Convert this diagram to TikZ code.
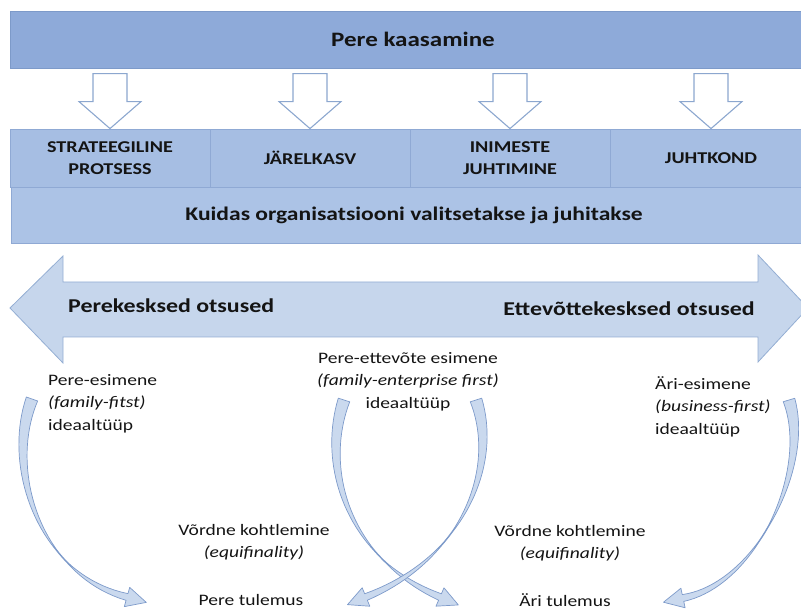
\documentclass[tikz,border=0pt]{standalone}
\usepackage{fontspec}
\setmainfont{Carlito}[FakeStretch=1.22]
\usetikzlibrary{calc}

\definecolor{barblue}{HTML}{8EAAD9}
\definecolor{barline}{HTML}{7D9AC9}
\definecolor{cellblue}{HTML}{A6BEE3}
\definecolor{rowblue}{HTML}{ACC3E6}
\definecolor{cellline}{HTML}{8FA9D4}
\definecolor{hollowline}{HTML}{8CA7CF}
\definecolor{bigfill}{HTML}{C6D6EC}
\definecolor{bigline}{HTML}{94AED3}
\definecolor{ribfill}{HTML}{CAD9EE}
\definecolor{ribline}{HTML}{7D9ACA}
\definecolor{ink}{HTML}{141414}

% Tapered, twisted ribbon arrow along a Bezier curve
% #1 name, #2 start, #3 #4 controls, #5 end, #6 pinch parameter, #7 top width, #8 width at head
\newcommand\ribbon[8]{%
  \path #2 .. controls #3 and #4 .. #5
    \foreach \k [evaluate=\k as \p using \k/40] in {0,...,40}{coordinate[pos=\p] (#1q\k)};
  \foreach \k in {0,...,39}{%
    \pgfmathtruncatemacro\kn{\k+1}%
    \pgfmathsetmacro\rbt{\k/40}%
    \pgfmathsetmacro\hw{max(0.35,ifthenelse(\rbt<#6,#7*(#6-\rbt)/#6/2,#8*(\rbt-#6)/(1-#6)/2))}%
    \coordinate (#1L\k) at ($(#1q\k)!\hw pt!90:(#1q\kn)$);%
    \coordinate (#1R\k) at ($(#1q\k)!\hw pt!-90:(#1q\kn)$);%
  }
  \pgfmathsetmacro\hw{#8/2}
  \coordinate (#1L40) at ($(#1q40)!\hw pt!-90:(#1q39)$);
  \coordinate (#1R40) at ($(#1q40)!\hw pt!90:(#1q39)$);
  \coordinate (#1hl) at ($(#1q40)!10pt!-90:(#1q39)$);
  \coordinate (#1hr) at ($(#1q40)!10pt!90:(#1q39)$);
  \coordinate (#1tip) at ($(#1q40)!20pt!180:(#1q39)$);
  \draw[ribbonband] (#1L0) \foreach \k in {1,...,40}{ -- (#1L\k)}
    -- (#1hl) -- (#1tip) -- (#1hr)
    \foreach \k in {40,39,...,0}{ -- (#1R\k)} -- cycle;
}

% Hollow block arrow pointing down onto a node
\newcommand\downblock[1]{%
  \draw[hollow] ($(#1.north)+(-17,-55)$) -- ($(#1.north)+(17,-55)$)
    -- ($(#1.north)+(17,-27)$) -- ($(#1.north)+(31,-27)$) -- (#1.north)
    -- ($(#1.north)+(-31,-27)$) -- ($(#1.north)+(-17,-27)$) -- cycle;
}

\begin{document}
\begin{tikzpicture}[x=1pt,y=-1pt,
  every node/.style={text=ink},
  topbar/.style={fill=barblue, draw=barline, line width=0.8pt, minimum width=806pt,
    minimum height=57pt, inner sep=0pt, font=\bfseries\fontsize{20.5}{24}\selectfont},
  cellbox/.style={fill=cellblue, draw=cellline, line width=0.8pt, minimum height=58pt,
    inner sep=0pt, align=center, font=\bfseries\fontsize{16.5}{22}\selectfont},
  rowbox/.style={fill=rowblue, draw=cellline, line width=0.8pt, minimum width=806pt,
    minimum height=56pt, inner sep=0pt, font=\bfseries\fontsize{19.3}{24}\selectfont},
  hollow/.style={fill=white, draw=hollowline, line width=1.1pt, line join=miter},
  bigarrow/.style={fill=bigfill, draw=bigline, line width=0.8pt},
  ribbonband/.style={fill=ribfill, draw=ribline, line width=0.7pt, line join=round},
  sidetext/.style={font=\bfseries\fontsize{19.6}{22}\selectfont, inner sep=0pt},
  lbl/.style={font=\fontsize{16}{22.5}\selectfont, inner sep=0pt},
]
\useasboundingbox (0,0) rectangle (801,609);

% header and the four areas
\node[topbar] (kaasamine) at (413,39.5) {Pere kaasamine};
\node[cellbox, minimum width=200pt] (strat) at (110,158) {STRATEEGILINE\\PROTSESS};
\node[cellbox, minimum width=200pt] (jarel) at (310,158) {JÄRELKASV};
\node[cellbox, minimum width=200pt] (inim) at (510,158) {INIMESTE\\JUHTIMINE};
\node[cellbox, minimum width=202pt] (juht) at (711,158) {JUHTKOND};
\node[rowbox] (kuidas) at (414,215) {Kuidas organisatsiooni valitsetakse ja juhitakse};

\downblock{strat}
\downblock{jarel}
\downblock{inim}
\downblock{juht}

% two-headed arrow between family and business decisions
\draw[bigarrow] (10,308) -- (63,256) -- (63,282) -- (758,282) -- (758,255)
  -- (808,308) -- (758,362) -- (758,337) -- (63,337) -- (63,363) -- cycle;
\node[sidetext, anchor=west] (pere) at (68,306) {Perekesksed otsused};
\node[sidetext, anchor=east] (ettev) at (755,309) {Ettevõttekesksed otsused};

% ideal types and outcomes
\node[lbl, align=left, anchor=north west] (peresim) at (48,374)
  {Pere-esimene\\\textit{(family-fitst)}\\ideaaltüüp};
\node[lbl, align=center, anchor=north] (pereett) at (408,352)
  {Pere-ettevõte esimene\\\textit{(family-enterprise first)}\\ideaaltüüp};
\node[lbl, align=left, anchor=north west] (ariesim) at (655,376)
  {Äri-esimene\\\textit{(business-first)}\\ideaaltüüp};
\node[lbl, align=center, anchor=north] (vord1) at (254,524)
  {Võrdne kohtlemine\\\textit{(equifinality)}};
\node[lbl, align=center, anchor=north] (vord2) at (570,525)
  {Võrdne kohtlemine\\\textit{(equifinality)}};
\node[lbl] (peretul) at (251,600.5) {Pere tulemus};
\node[lbl] (aritul) at (565,600) {Äri tulemus};

% curved ribbon arrows
\ribbon{ra}{(32,399)}{(5,470)}{(40,575)}{(127,597)}{0.7}{12}{7}
\ribbon{rb}{(344,400)}{(320,470)}{(350,560)}{(440,597)}{0.74}{12}{7}
\ribbon{rc}{(476,400)}{(500,470)}{(460,560)}{(366,597)}{0.63}{12}{7}
\ribbon{rd}{(789,400)}{(812,470)}{(755,585)}{(683,598)}{0.55}{12}{7}
\end{tikzpicture}
\end{document}
